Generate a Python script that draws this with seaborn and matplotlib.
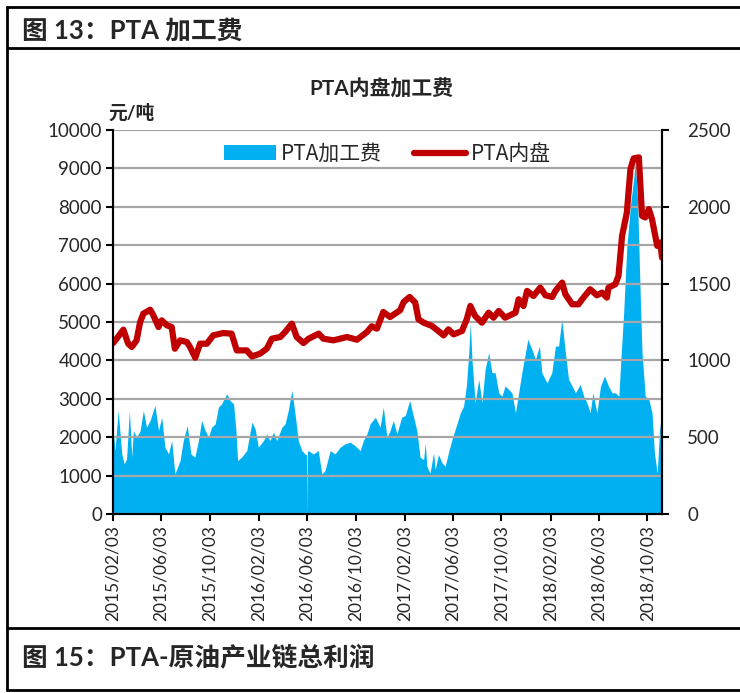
import pandas as pd
import matplotlib
matplotlib.use("Agg")
import matplotlib.pyplot as plt
from matplotlib.lines import Line2D
from matplotlib.patches import Patch
import seaborn as sns

start = pd.Timestamp("2015-02-03")

# PTA内盘 price (left axis, 元/吨), days counted from 2015-02-03
price_days = [0, 9, 26, 38, 47, 59, 68, 76, 93, 101, 114, 122, 135, 147, 155, 168, 185, 193,
              206, 218, 235, 251, 276, 297, 310, 335, 348, 368, 385, 398, 419, 431, 448, 460,
              477, 490, 515, 527, 552, 586, 611, 636, 648, 661, 677, 694, 719, 728, 743, 757,
              765, 778, 799, 820, 828, 840, 853, 874, 886, 895, 907, 924, 941, 953, 966, 982,
              1008, 1016, 1028, 1037, 1053, 1070, 1083, 1100, 1108, 1125, 1133, 1150, 1166,
              1175, 1195, 1212, 1225, 1237, 1241, 1258, 1266, 1275, 1287, 1296, 1304, 1317,
              1325, 1333, 1342, 1350, 1363, 1371, 1375]
price_vals = [4450, 4565, 4800, 4435, 4350, 4520, 5000, 5217, 5320, 5174, 4870, 5043, 4913,
              4870, 4304, 4522, 4478, 4348, 4070, 4435, 4435, 4652, 4713, 4696, 4261, 4261,
              4104, 4174, 4304, 4565, 4609, 4739, 4957, 4609, 4452, 4565, 4696, 4565, 4522,
              4609, 4539, 4739, 4887, 4826, 5261, 5130, 5304, 5522, 5652, 5504, 5070, 4983,
              4896, 4722, 4652, 4809, 4678, 4765, 5070, 5417, 5157, 4983, 5243, 5113, 5287,
              5113, 5243, 5591, 5417, 5809, 5678, 5896, 5696, 5652, 5809, 6026, 5722, 5461,
              5461, 5591, 5852, 5696, 5765, 5635, 5896, 5983, 6200, 7243, 7852, 8983, 9261,
              9287, 7765, 7722, 7939, 7678, 6983, 7070, 6678]

# PTA加工费 (right axis, 元/吨), days counted from 2015-02-03
fee_days = [0, 5, 13, 22, 28, 34, 41, 47, 51, 59, 68, 76, 84, 93, 105, 114, 122, 130, 139, 147,
            155, 168, 176, 186, 195, 205, 214, 222, 231, 239, 247, 256, 264, 272, 285, 293, 302,
            308, 312, 322, 335, 348, 356, 364, 377, 385, 393, 402, 410, 423, 431, 439, 448, 456,
            464, 473, 481, 485, 486, 487, 489, 502, 514, 523, 531, 544, 556, 569, 581, 594, 606,
            619, 627, 636, 644, 657, 669, 677, 686, 694, 702, 711, 723, 732, 743, 753, 761, 769,
            778, 782, 786, 794, 803, 807, 815, 824, 832, 840, 849, 857, 870, 878, 885, 891, 895,
            899, 907, 916, 924, 932, 941, 949, 957, 966, 974, 982, 991, 999, 1008, 1016, 1024,
            1033, 1039, 1049, 1058, 1068, 1074, 1087, 1099, 1108, 1116, 1124, 1133, 1141, 1150,
            1158, 1170, 1179, 1187, 1195, 1202, 1212, 1221, 1231, 1241, 1250, 1258, 1267, 1272,
            1279, 1287, 1296, 1304, 1308, 1314, 1321, 1325, 1333, 1342, 1350, 1356, 1363, 1369,
            1375]
fee_vals = [565, 413, 674, 391, 326, 359, 674, 370, 543, 500, 543, 674, 565, 609, 707, 543, 630,
            435, 391, 478, 261, 348, 478, 576, 391, 370, 478, 609, 543, 500, 565, 587, 696, 717,
            783, 739, 717, 543, 348, 370, 413, 598, 554, 435, 478, 522, 478, 533, 478, 565, 587,
            674, 804, 652, 478, 413, 391, 385, 0, 405, 413, 391, 413, 261, 283, 413, 391, 435,
            457, 467, 446, 413, 478, 522, 587, 630, 565, 696, 500, 543, 609, 522, 630, 641, 739,
            630, 543, 370, 354, 463, 311, 267, 398, 289, 387, 333, 311, 398, 485, 550, 659, 702,
            833, 1050, 1246, 1007, 724, 876, 724, 941, 1050, 920, 920, 789, 767, 833, 811, 789,
            659, 789, 920, 1050, 1137, 1072, 1007, 1093, 920, 854, 920, 1093, 1093, 1267, 1050,
            876, 833, 789, 843, 767, 724, 659, 789, 659, 833, 898, 833, 789, 789, 767, 1007, 1311,
            1746, 2007, 2180, 2289, 2028, 1376, 1050, 767, 746, 659, 398, 267, 550, 659]

tick_labels = ["2015/02/03", "2015/06/03", "2015/10/03", "2016/02/03", "2016/06/03",
               "2016/10/03", "2017/02/03", "2017/06/03", "2017/10/03", "2018/02/03",
               "2018/06/03", "2018/10/03"]

price = pd.DataFrame({"date": start + pd.to_timedelta(price_days, unit="D"), "PTA内盘": price_vals})
fee = pd.DataFrame({"date": start + pd.to_timedelta(fee_days, unit="D"), "PTA加工费": fee_vals})

sns.set_theme(style="white")
plt.rcParams["font.family"] = ["Lato", "Noto Sans CJK SC"]

blue = "#00B0F0"
red = "#C00000"

fig = plt.figure(figsize=(7.4, 6.93), dpi=100)
ax = fig.add_axes([0.1527, 0.2583, 0.7419, 0.5541])
ax2 = ax.twinx()

# area on the right axis, behind
ax2.fill_between(fee["date"], 0, fee["PTA加工费"], color=blue, lw=0)
sns.lineplot(data=price, x="date", y="PTA内盘", ax=ax, color=red, lw=4.5,
             solid_capstyle="round", solid_joinstyle="round")
ax.set_zorder(ax2.get_zorder() + 1)
ax.patch.set_visible(False)

ax.set_xlim(start, start + pd.Timedelta(days=1375))
ax.set_ylim(0, 10000)
ax2.set_ylim(0, 2500)
ax.set_yticks(range(0, 10001, 1000))
ax2.set_yticks(range(0, 2501, 500))
ax.set_xticks(pd.to_datetime(tick_labels))
ax.set_xticklabels(tick_labels, rotation=90)
ax.set_xlabel("")
ax.set_ylabel("")

ax.yaxis.grid(True, color="#A6A6A6", lw=1.6)
ax.xaxis.grid(False)
ax2.grid(False)

for a in (ax, ax2):
    a.spines["top"].set_visible(False)
    for s in ("left", "right", "bottom"):
        a.spines[s].set_color("black")
        a.spines[s].set_linewidth(1.5)

ax.tick_params(axis="y", direction="out", length=5, width=1.5, color="black",
               labelsize=13.5, pad=3, left=True)
ax.tick_params(axis="x", direction="out", length=5, width=1.5, color="black",
               labelsize=12.5, pad=3, bottom=True)
ax2.tick_params(axis="y", direction="out", length=5, width=1.5, color="black",
                labelsize=13.5, pad=13, right=True)

handles = [Patch(color=blue, lw=0), Line2D([0], [0], color=red, lw=4.5, solid_capstyle="round")]
ax.legend(handles, ["PTA加工费", "PTA内盘"], loc="upper center", bbox_to_anchor=(0.5, 1.015),
          ncol=2, frameon=False, handlelength=2.5, handleheight=0.7, handletextpad=0.25,
          columnspacing=1.5, prop={"family": ["Noto Sans CJK SC"], "size": 15})

fig.text(0.0297, 0.956, "图 13：PTA 加工费", fontsize=18.5, fontweight="bold", va="center")
fig.text(0.0297, 0.052, "图 15：PTA-原油产业链总利润", fontsize=18.5, fontweight="bold", va="center")
fig.text(0.515, 0.871, "PTA内盘加工费", fontsize=15, fontweight="bold", ha="center", va="center")
fig.text(0.146, 0.837, "元/吨", fontsize=13.5, fontweight="bold", va="center")

# report frame lines
for y in (0.9899, 0.9307, 0.0938, 0.0043):
    fig.add_artist(Line2D([0.0095, 1.0], [y, y], color="black", lw=2))
fig.add_artist(Line2D([0.0095, 0.0095], [0.0043, 0.9899], color="black", lw=2))

fig.savefig("out.png", dpi=100)
